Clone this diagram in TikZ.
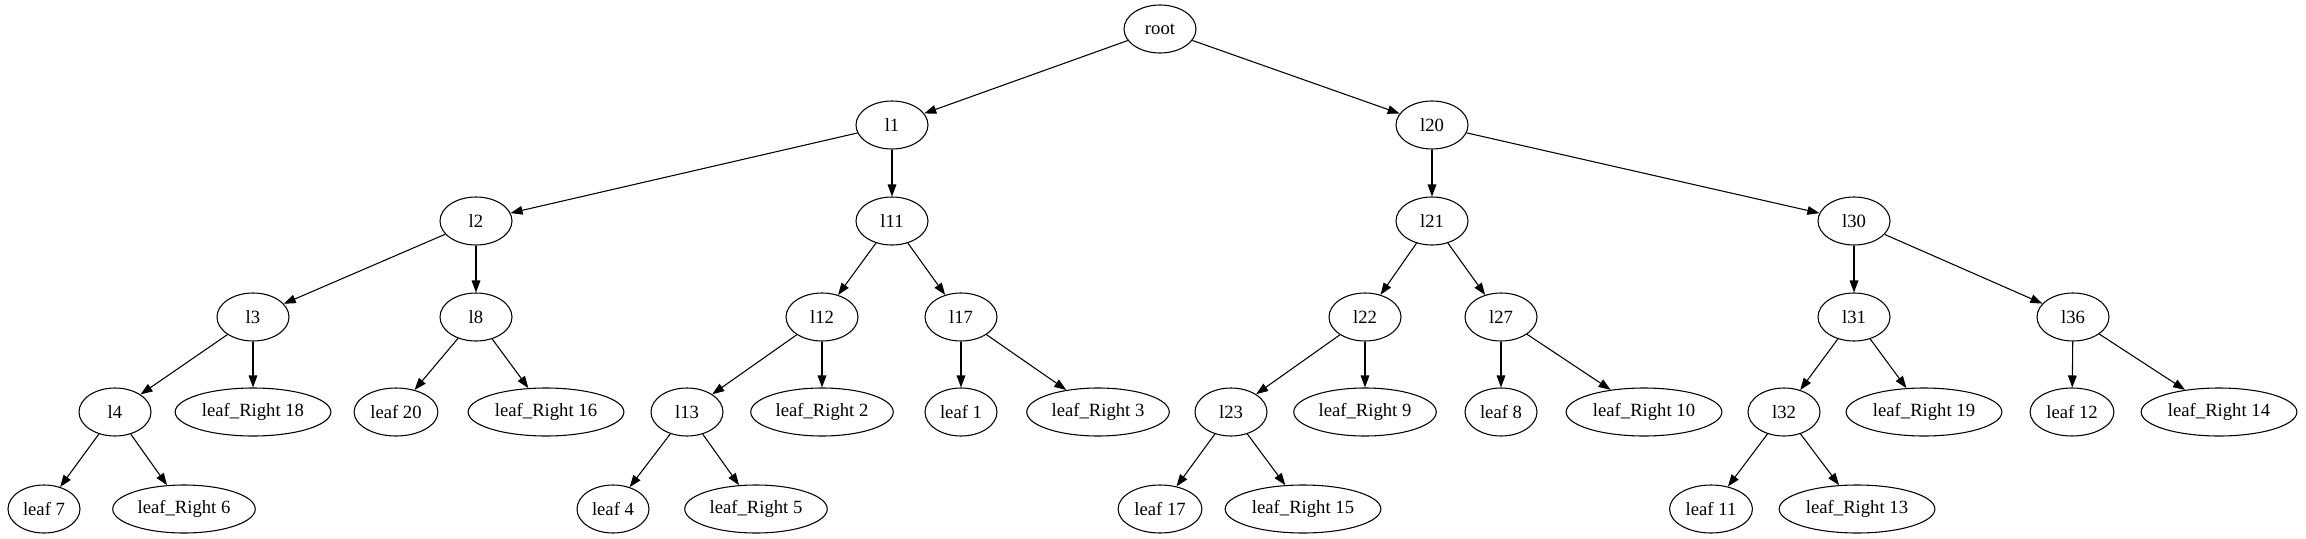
\documentclass[tikz,border=0pt]{standalone}
\usepackage{fontspec}
\setmainfont{Liberation Serif}
\usetikzlibrary{arrows.meta,shapes.geometric}
\tikzset{
    %Define standard arrow tip
    >={Triangle[length=9pt,width=6.5pt]},
    %Define style for tree nodes
    treenode/.style={
           ellipse,
           draw=black, line width=0.8pt,
           minimum width=54pt,
           minimum height=36pt,
           inner xsep=3pt, inner ysep=1pt,
           font=\fontsize{14pt}{16pt}\selectfont,
           text centered},
    % Define arrow style
    pil/.style={
           ->,
           line width=0.8pt}
}
\begin{document}
\begin{tikzpicture}[x=0.75pt,y=-0.75pt,every node/.style={treenode}]
\useasboundingbox (0,0) rectangle (2306,539);

 %nodes
\node (root) at (1160,29) {root};
\node (l1) at (892,125) {l1};
\node (l20) at (1432,125) {l20};

\node (l2) at (476,221) {l2};
\node (l11) at (892,221) {l11};
\node (l21) at (1432,221) {l21};
\node (l30) at (1854,221) {l30};

\node (l3) at (253,317) {l3};
\node (l8) at (476,317) {l8};
\node (l12) at (822,317) {l12};
\node (l17) at (961,317) {l17};
\node (l22) at (1365,317) {l22};
\node (l27) at (1501,317) {l27};
\node (l31) at (1854,317) {l31};
\node (l36) at (2073,317) {l36};

\node (l4) at (115,412) {l4};
\node (r18) at (253,412) {leaf\_Right 18};
\node (f20) at (396,412) {leaf 20};
\node (r16) at (546,412) {leaf\_Right 16};
\node (l13) at (687,412) {l13};
\node (r2) at (822,412) {leaf\_Right 2};
\node (f1) at (961,412) {leaf 1};
\node (r3) at (1098,412) {leaf\_Right 3};
\node (l23) at (1231,412) {l23};
\node (r9) at (1365,412) {leaf\_Right 9};
\node (f8) at (1501,412) {leaf 8};
\node (r10) at (1644,412) {leaf\_Right 10};
\node (l32) at (1784,412) {l32};
\node (r19) at (1924,412) {leaf\_Right 19};
\node (f12) at (2072,412) {leaf 12};
\node (r14) at (2219,412) {leaf\_Right 14};

\node (f7) at (44,509) {leaf 7};
\node (r6) at (184,509) {leaf\_Right 6};
\node (f4) at (613,509) {leaf 4};
\node (r5) at (756,509) {leaf\_Right 5};
\node (f17) at (1160,509) {leaf 17};
\node (r15) at (1303,509) {leaf\_Right 15};
\node (f11) at (1711,509) {leaf 11};
\node (r13) at (1857,509) {leaf\_Right 13};

 %edges
\path[pil]
    (root) edge (l1) edge (l20)
    (l1) edge (l2) edge (l11)
    (l2) edge (l3) edge (l8)
    (l3) edge (l4) edge (r18)
    (l4) edge (f7) edge (r6)
    (l8) edge (f20) edge (r16)
    (l11) edge (l12) edge (l17)
    (l12) edge (l13) edge (r2)
    (l13) edge (f4) edge (r5)
    (l17) edge (f1) edge (r3)
    (l20) edge (l21) edge (l30)
    (l21) edge (l22) edge (l27)
    (l22) edge (l23) edge (r9)
    (l23) edge (f17) edge (r15)
    (l27) edge (f8) edge (r10)
    (l30) edge (l31) edge (l36)
    (l31) edge (l32) edge (r19)
    (l32) edge (f11) edge (r13)
    (l36) edge (f12) edge (r14);
\end{tikzpicture}
\end{document}
